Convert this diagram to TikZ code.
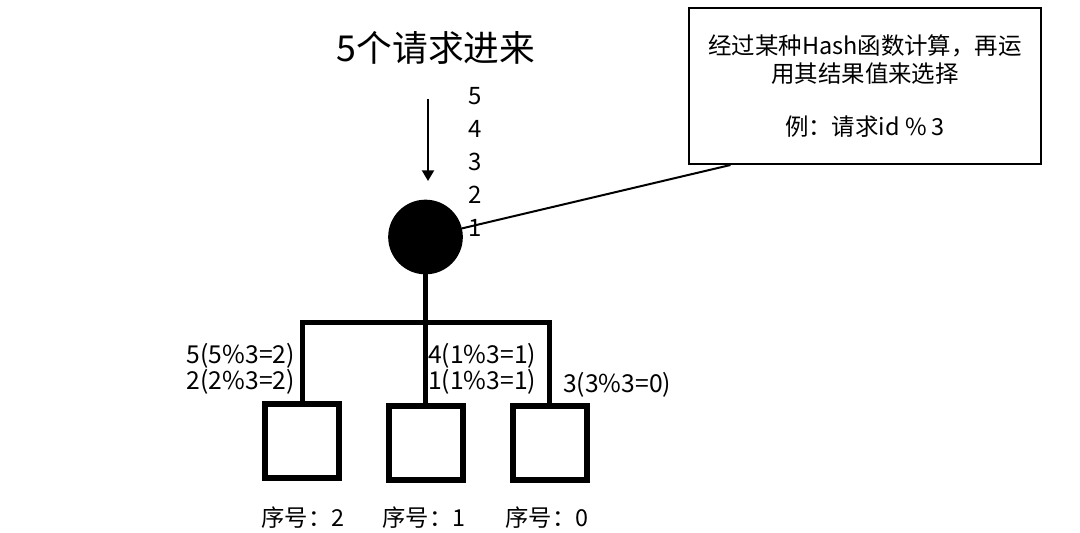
\documentclass[tikz,border=0pt]{standalone}
\usepackage{fontspec}
\newfontfamily\cjk{Noto Sans CJK SC}
\usetikzlibrary{arrows.meta,calc}
\begin{document}
\begin{tikzpicture}[x=0.75pt,y=-0.75pt,
 txt/.style={font=\cjk\fontsize{18.5pt}{19.5pt}\selectfont, inner sep=0pt},
 numtxt/.style={font=\cjk\fontsize{17.5pt}{20pt}\selectfont, inner sep=0pt},
 server/.style={draw, line width=4.5pt, minimum size=55.5pt, inner sep=0pt},
 bar/.style={line width=3.75pt},
 thinline/.style={line width=1.5pt}]
\useasboundingbox (0,0) rectangle (1080,532);
% title and incoming requests
\node[font=\cjk\fontsize{26.8pt}{30pt}\selectfont, inner sep=0pt] (title) at (436,48) {5个请求进来};
\coordinate (a0) at (428,99);
\coordinate (a1) at (428,181);
\draw[thinline,-{Triangle[length=8pt,width=9pt]}] (a0) -- (a1);
\node[txt, font=\cjk\fontsize{18pt}{24.75pt}\selectfont, align=left, anchor=west] (queue) at (468,162) {5\\4\\3\\2\\1};
% hub
\node[fill=black, circle, minimum size=56pt, inner sep=0pt] (hub) at (425.5,237) {};
% note
\node[draw, thinline, minimum width=264pt, minimum height=117pt, align=center, inner sep=0pt,
 font=\cjk\fontsize{17.6pt}{21pt}\selectfont] (note) at (865,86)
 {经过某种Hash函数计算，再运\\用其结果值来选择\\[18.75pt]例：请求id \% 3};
\draw[thinline] (hub) -- ($(note.south west)!0.12!(note.south east)$);
% servers
\node[server] (s2) at (302,441) {};
\node[server] (s1) at (425.5,442.5) {};
\node[server] (s0) at (549.5,443) {};
\coordinate (j) at (425.5,322);
\draw[bar] (hub.center) -- (s1.north);
\draw[bar] (s2.north) -- (s2.north |- j) -- (s0.north |- j) -- (s0.north);
% labels
\node[txt, align=left, anchor=east] (l2) at (295,369) {5(5\%3=2)\\2(2\%3=2)};
\node[txt, align=left, anchor=west] (l1) at (428,369) {4(1\%3=1)\\1(1\%3=1)};
\node[txt, anchor=west] (l0) at (563,385) {3(3\%3=0)};
\node[numtxt] (n2) at (303,518) {序号：2};
\node[numtxt] (n1) at (424,518) {序号：1};
\node[numtxt] (n0) at (547,518) {序号：0};
\end{tikzpicture}
\end{document}
